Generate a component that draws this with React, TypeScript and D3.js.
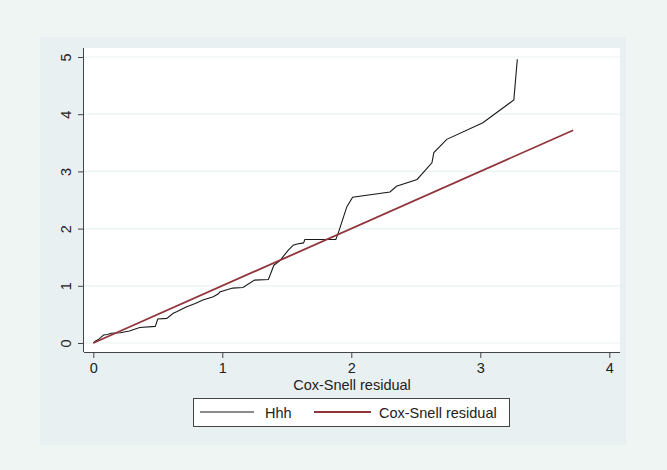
import { useRef, useEffect } from "react";
import * as d3 from "d3";

// Nelson-Aalen cumulative hazard ("Hhh") against Cox-Snell residual
const hhhX = [
  0, 0.02, 0.04, 0.065, 0.08, 0.11, 0.14, 0.21, 0.28, 0.36, 0.48, 0.5, 0.57,
  0.62, 0.65, 0.72, 0.79, 0.85, 0.93, 0.97, 0.98, 1.08, 1.16, 1.25, 1.357,
  1.376, 1.4, 1.447, 1.51, 1.55, 1.58, 1.63, 1.64, 1.88, 1.9, 1.965, 2.01, 2.3,
  2.35, 2.51, 2.625, 2.64, 2.74, 3.02, 3.26, 3.287,
];
const hhhY = [
  0, 0.04, 0.06, 0.11, 0.14, 0.15, 0.17, 0.18, 0.21, 0.27, 0.29, 0.42, 0.43,
  0.52, 0.55, 0.63, 0.69, 0.75, 0.81, 0.86, 0.89, 0.96, 0.97, 1.1, 1.11, 1.22,
  1.36, 1.44, 1.62, 1.71, 1.73, 1.75, 1.81, 1.81, 1.93, 2.38, 2.55, 2.64, 2.74,
  2.86, 3.15, 3.33, 3.56, 3.85, 4.25, 4.96,
];
// reference line y = x
const refX = [0, 3.72];

const xTicks = [0, 1, 2, 3, 4];
const yTicks = [0, 1, 2, 3, 4, 5];
const legendLabels = ["Hhh", "Cox-Snell residual"];

const width = 667;
const height = 470;
const font = "'Liberation Sans', Arial, sans-serif";
const fs = 14.5;

const App = () => {
  const svgRef = useRef<SVGSVGElement>(null);

  useEffect(() => {
    const svg = d3.select(svgRef.current);
    svg.selectAll("*").remove();

    svg.append("rect").attr("width", width).attr("height", height).attr("fill", "#eff5f2");
    svg.append("rect").attr("x", 40).attr("y", 37).attr("width", 586).attr("height", 408).attr("fill", "#e8f0f2");
    svg.append("rect").attr("x", 84).attr("y", 48).attr("width", 536).attr("height", 304).attr("fill", "#ffffff");

    const x = d3.scaleLinear().domain([0, 4]).range([93.3, 609.3]);
    const y = d3.scaleLinear().domain([0, 5]).range([343, 57]);

    // gridlines
    svg
      .append("g")
      .selectAll("line")
      .data(yTicks)
      .enter()
      .append("line")
      .attr("x1", 84)
      .attr("x2", 620)
      .attr("y1", (d) => y(d))
      .attr("y2", (d) => y(d))
      .attr("stroke", "#eaf2f3")
      .attr("stroke-width", 1.2);

    const line = d3
      .line<[number, number]>()
      .x((d) => x(d[0]))
      .y((d) => y(d[1]));

    svg
      .append("path")
      .datum(hhhX.map((v, i) => [v, hhhY[i]] as [number, number]))
      .attr("d", line)
      .attr("fill", "none")
      .attr("stroke", "#1a1a1a")
      .attr("stroke-width", 1.1);

    svg
      .append("path")
      .datum(refX.map((v) => [v, v] as [number, number]))
      .attr("d", line)
      .attr("fill", "none")
      .attr("stroke", "#90353b")
      .attr("stroke-width", 1.8);

    // axes
    const gx = svg
      .append("g")
      .attr("transform", "translate(0,352)")
      .call(d3.axisBottom(x).tickValues(xTicks).tickSize(6).tickFormat(d3.format("d")));
    gx.select(".domain").attr("d", "M84,0.5H620").attr("stroke", "#444");
    gx.selectAll(".tick text").attr("y", 21).attr("dy", "0");

    const gy = svg
      .append("g")
      .attr("transform", "translate(84,0)")
      .call(d3.axisLeft(y).tickValues(yTicks).tickSize(6).tickFormat(d3.format("d")));
    gy.select(".domain").attr("d", "M-0.5,48V352").attr("stroke", "#444");
    gy.selectAll(".tick text")
      .attr("transform", "rotate(-90)")
      .attr("x", 0)
      .attr("y", -13)
      .attr("dy", "0")
      .attr("text-anchor", "middle");

    svg.selectAll(".tick line").attr("stroke", "#444");
    svg
      .selectAll(".tick text")
      .attr("font-family", font)
      .attr("font-size", fs)
      .attr("fill", "#222");

    svg
      .append("text")
      .attr("x", 352)
      .attr("y", 390)
      .attr("text-anchor", "middle")
      .attr("font-family", font)
      .attr("font-size", fs)
      .attr("fill", "#222")
      .text("Cox-Snell residual");

    // legend
    const lg = svg.append("g");
    lg.append("rect")
      .attr("x", 193.5)
      .attr("y", 398.5)
      .attr("width", 316)
      .attr("height", 28)
      .attr("fill", "#ffffff")
      .attr("stroke", "#444");
    const items = [
      { x0: 200, x1: 254, tx: 265, color: "#1a1a1a", w: 1.1 },
      { x0: 314, x1: 371, tx: 379, color: "#90353b", w: 1.8 },
    ];
    items.forEach((it, i) => {
      lg.append("line")
        .attr("x1", it.x0)
        .attr("x2", it.x1)
        .attr("y1", 412)
        .attr("y2", 412)
        .attr("stroke", it.color)
        .attr("stroke-width", it.w);
      lg.append("text")
        .attr("x", it.tx)
        .attr("y", 418)
        .attr("font-family", font)
        .attr("font-size", fs)
        .attr("fill", "#222")
        .text(legendLabels[i]);
    });
  }, []);

  return (
    <div style={{ position: "absolute", left: 0, top: 0 }}>
      <svg ref={svgRef} width={width} height={height} style={{ display: "block" }}></svg>
    </div>
  );
};

export default App;
